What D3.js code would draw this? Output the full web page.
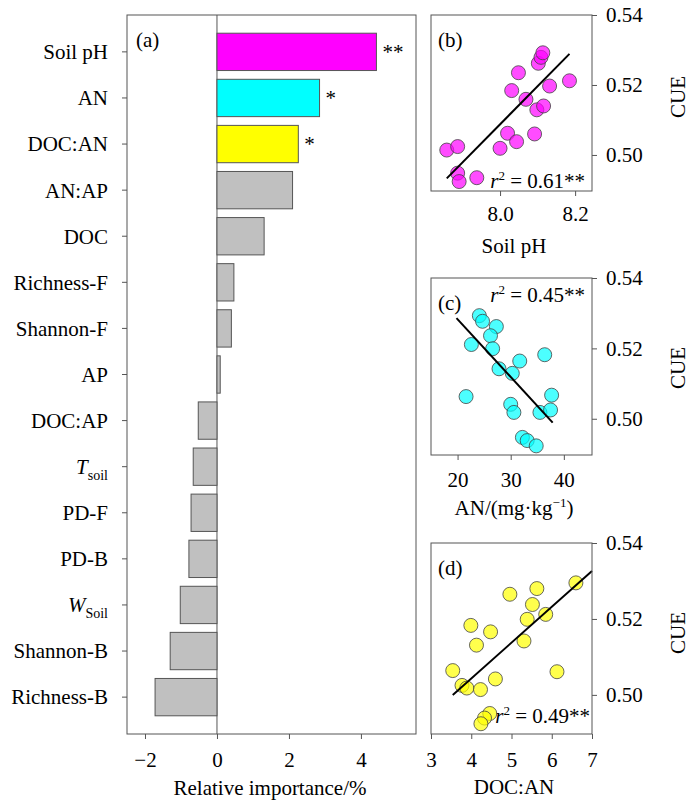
<!DOCTYPE html>
<html>
<head>
<meta charset="utf-8">
<script src="https://cdn.jsdelivr.net/npm/d3@7"></script>
<style>
  body { margin: 0; background: #fff; }
  text { font-family: "Liberation Serif", "Times New Roman", serif; fill: #000; }
</style>
</head>
<body>
<svg id="chart" width="692" height="801"></svg>
<script>
// panel (a): relative importance of each factor
var factors = ["Soil pH", "AN", "DOC:AN", "AN:AP", "DOC", "Richness-F", "Shannon-F", "AP",
               "DOC:AP", "Tsoil", "PD-F", "PD-B", "WSoil", "Shannon-B", "Richness-B"];
var importance = [4.43, 2.85, 2.26, 2.10, 1.31, 0.47, 0.40, 0.09,
                  -0.52, -0.66, -0.72, -0.78, -1.02, -1.30, -1.72];
var signif = ["**", "*", "*", "", "", "", "", "", "", "", "", "", "", "", ""];
var impTicks = [-2, 0, 2, 4];

// panels (b)-(d): CUE against the three significant factors
var phX = [7.858, 7.887, 7.887, 7.891, 7.938, 8.000, 8.020, 8.044, 8.092, 8.031,
           8.069, 8.049, 8.098, 8.116, 8.132, 8.185, 8.102, 8.109, 8.114];
var phY = [0.5014, 0.5024, 0.4948, 0.4924, 0.4935, 0.5019, 0.5062, 0.5038, 0.5060, 0.5184,
           0.5159, 0.5235, 0.5129, 0.5140, 0.5197, 0.5212, 0.5262, 0.5279, 0.5292];
var phFit = [[7.858, 0.4933], [8.185, 0.5289]];

var anX = [24.1, 24.7, 27.3, 26.2, 22.6, 26.6, 36.4, 31.7, 27.8, 30.3,
           21.6, 37.7, 30.0, 30.6, 35.5, 37.5, 32.2, 33.1, 34.8];
var anY = [0.5293, 0.5277, 0.5262, 0.5236, 0.5211, 0.5199, 0.5182, 0.5164, 0.5142, 0.5129,
           0.5063, 0.5067, 0.5041, 0.5018, 0.5018, 0.5025, 0.4947, 0.4938, 0.4923];
var anFit = [[19.8, 0.5286], [37.9, 0.4989]];

var docanX = [6.60, 4.96, 5.63, 5.52, 5.39, 5.85, 3.99, 4.48, 4.13, 5.31,
              3.54, 4.60, 6.13, 3.77, 3.89, 4.23, 4.46, 4.33, 4.24];
var docanY = [0.5295, 0.5265, 0.5280, 0.5238, 0.5199, 0.5212, 0.5183, 0.5166, 0.5131, 0.5142,
              0.5064, 0.5042, 0.5061, 0.5025, 0.5018, 0.5014, 0.4951, 0.4939, 0.4924];
var docanFit = [[3.54, 0.5000], [7.0, 0.5326]];

var cueTicks = [0.50, 0.52, 0.54];

var svg = d3.select("#chart");
var frameColour = "#555";
var highlight = {"Soil pH": "#ff00ff", "AN": "#00ffff", "DOC:AN": "#ffff00"};

// ---------- panel (a) ----------
var ax = d3.scaleLinear().domain([-2.5, 5.53]).range([127, 416]);
var ay = d3.scaleBand().domain(factors).range([15, 734])
    .paddingInner(0.19).paddingOuter(0.395);

var pa = svg.append("g");
pa.append("line")
    .attr("x1", ax(0)).attr("x2", ax(0))
    .attr("y1", 15).attr("y2", 734)
    .attr("stroke", frameColour);

pa.selectAll(".bar").data(factors).enter()
    .append("rect")
    .attr("class", "bar")
    .attr("x", (d, i) => Math.min(ax(0), ax(importance[i])))
    .attr("y", d => ay(d))
    .attr("width", (d, i) => Math.abs(ax(importance[i]) - ax(0)))
    .attr("height", ay.bandwidth())
    .attr("fill", d => highlight[d] || "#c0c0c0")
    .attr("stroke", "#555")
    .attr("stroke-width", 1);

pa.selectAll(".sig").data(factors).enter()
    .append("text")
    .attr("class", "sig")
    .attr("x", (d, i) => ax(importance[i]) + 6)
    .attr("y", d => ay(d) + ay.bandwidth() / 2)
    .attr("dy", "0.35em")
    .style("font-size", "21px")
    .text((d, i) => signif[i]);

pa.append("rect")
    .attr("x", 127).attr("y", 15).attr("width", 289).attr("height", 719)
    .attr("fill", "none").attr("stroke", frameColour);

// factor labels, two of them with italic letter and subscript
var labs = pa.selectAll(".flab").data(factors).enter()
    .append("g").attr("class", "flab")
    .attr("transform", d => "translate(0," + (ay(d) + ay.bandwidth() / 2) + ")");
labs.append("line").attr("x1", 122).attr("x2", 127).attr("stroke", frameColour);
labs.append("text")
    .attr("x", 108).attr("dy", "0.35em")
    .attr("text-anchor", "end")
    .style("font-size", "21px")
    .each(function(d) {
        var t = d3.select(this);
        if (d === "Tsoil" || d === "WSoil") {
            t.append("tspan").style("font-style", "italic").text(d[0]);
            t.append("tspan").attr("dy", 6).style("font-size", "14px").text(d.slice(1));
        } else {
            t.text(d);
        }
    });

var axA = pa.append("g")
    .attr("transform", "translate(0,734)")
    .call(d3.axisBottom(ax).tickValues(impTicks).tickSize(5).tickPadding(13));
axA.select(".domain").remove();
axA.selectAll("line").attr("stroke", frameColour);
axA.selectAll("text").style("font-size", "21px").style("font-family", "Liberation Serif");

pa.append("text").attr("x", 136).attr("y", 40).attr("dy", "0.35em")
    .style("font-size", "21px").text("(a)");
pa.append("text").attr("x", 270).attr("y", 788).attr("dy", "0.35em")
    .attr("text-anchor", "middle").style("font-size", "21px")
    .text("Relative importance/%");

// ---------- scatter panels ----------
function scatter(o) {
    var left = 431, right = 592;
    var x = d3.scaleLinear().domain(o.xDomain).range([left, right]);
    var y = d3.scaleLinear().domain([0.4897, 0.54]).range([o.bottom, o.top]);
    var g = svg.append("g");

    g.append("g").selectAll("circle").data(o.xs).enter()
        .append("circle")
        .attr("cx", d => x(d))
        .attr("cy", (d, i) => y(o.ys[i]))
        .attr("r", 7)
        .attr("fill", o.fill)
        .attr("fill-opacity", 0.7)
        .attr("stroke", "#444")
        .attr("stroke-opacity", 0.8)
        .attr("stroke-width", 1);

    g.append("line")
        .attr("x1", x(o.fit[0][0])).attr("y1", y(o.fit[0][1]))
        .attr("x2", x(o.fit[1][0])).attr("y2", y(o.fit[1][1]))
        .attr("stroke", "#000").attr("stroke-width", 2);

    g.append("rect")
        .attr("x", left).attr("y", o.top)
        .attr("width", right - left).attr("height", o.bottom - o.top)
        .attr("fill", "none").attr("stroke", frameColour);

    var xa = g.append("g").attr("transform", "translate(0," + o.bottom + ")")
        .call(d3.axisBottom(x).tickValues(o.xTicks).tickFormat(o.xFmt).tickSize(5).tickPadding(o.xPad));
    var ya = g.append("g").attr("transform", "translate(" + right + ",0)")
        .call(d3.axisRight(y).tickValues(cueTicks).tickFormat(d3.format(".2f")).tickSize(5).tickPadding(9));
    [xa, ya].forEach(function(a) {
        a.select(".domain").remove();
        a.selectAll("line").attr("stroke", frameColour);
        a.selectAll("text").style("font-size", "21px").style("font-family", "Liberation Serif");
    });

    g.append("text").attr("x", 438).attr("y", o.top + 25).attr("dy", "0.35em")
        .style("font-size", "21px").text(o.label);

    var r = g.append("text").attr("x", o.rPos[0]).attr("y", o.rPos[1]).attr("dy", "0.35em")
        .attr("text-anchor", "end").style("font-size", "21px");
    r.append("tspan").style("font-style", "italic").text("r");
    r.append("tspan").attr("dy", -8).style("font-size", "13px").text("2");
    r.append("tspan").attr("dy", 8).text(" = " + o.r2 + "**");

    g.append("text")
        .attr("transform", "translate(678," + o.cueY + ") rotate(-90)")
        .attr("dy", "0.35em").attr("text-anchor", "middle")
        .style("font-size", "21px").text("CUE");

    var xl = g.append("text").attr("x", 514).attr("y", o.xLabelY).attr("dy", "0.35em")
        .attr("text-anchor", "middle").style("font-size", "21px");
    o.xLabel(xl);
}

scatter({top: 15, bottom: 191, xDomain: [7.816, 8.245], xTicks: [8.0, 8.2], xFmt: d3.format(".1f"),
         xs: phX, ys: phY, fit: phFit, fill: "#ff00ff", label: "(b)", xPad: 10,
         r2: "0.61", rPos: [585, 181], cueY: 97, xLabelY: 246,
         xLabel: t => t.text("Soil pH")});

scatter({top: 278, bottom: 455, xDomain: [15, 45.3], xTicks: [20, 30, 40], xFmt: d3.format("d"),
         xs: anX, ys: anY, fit: anFit, fill: "#00ffff", label: "(c)", xPad: 12,
         r2: "0.45", rPos: [585, 295], cueY: 368, xLabelY: 508,
         xLabel: function(t) {
             t.append("tspan").text("AN/(mg·kg");
             t.append("tspan").attr("dy", -8).style("font-size", "13px").text("−1");
             t.append("tspan").attr("dy", 8).text(")");
         }});

scatter({top: 543, bottom: 734, xDomain: [3, 7], xTicks: [3, 4, 5, 6, 7], xFmt: d3.format("d"),
         xs: docanX, ys: docanY, fit: docanFit, fill: "#ffff00", label: "(d)", xPad: 13,
         r2: "0.49", rPos: [590, 716], cueY: 633, xLabelY: 787,
         xLabel: t => t.text("DOC:AN")});
</script>
</body>
</html>
